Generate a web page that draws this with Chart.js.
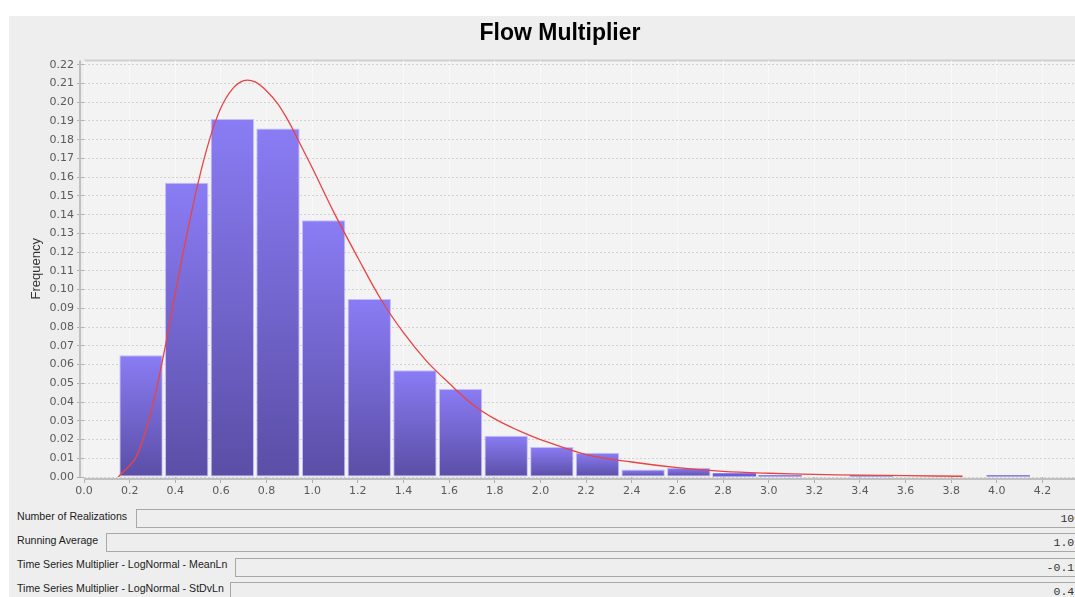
<!DOCTYPE html>
<html lang="en">
<head>
<meta charset="UTF-8">
<title>Flow Multiplier</title>
<script src="https://cdn.jsdelivr.net/npm/chart.js"></script>
<style>
  html, body { margin: 0; padding: 0; background: #fff; overflow: hidden; width: 1075px; height: 597px; }
  #panel { position: absolute; left: 9px; top: 16px; width: 1100px; height: 600px; background: #eeeeee; }
  #chartBox { position: absolute; left: 9px; top: 16px; }
  .lbl { position: absolute; font: 10.6px "Liberation Sans", Arial, sans-serif; color: #222; white-space: nowrap; }
  .fld { position: absolute; height: 19px; border: 1px solid #a8a8a8; background: #eeeeee;
         font: 11.5px "Liberation Mono", monospace; color: #333; text-align: right;
         line-height: 17px; padding-right: 4px; box-sizing: border-box; white-space: nowrap; overflow: hidden; }
</style>
</head>
<body>
<div id="panel"></div>
<div id="chartBox"><canvas id="myChart" width="1096" height="485"></canvas></div>

<div class="lbl" style="left:17px; top:510px;">Number of Realizations</div>
<div class="fld" style="left:136px; top:509px; width:957px;">1000</div>
<div class="lbl" style="left:17px; top:534px;">Running Average</div>
<div class="fld" style="left:106px; top:533px; width:987px;">1.031</div>
<div class="lbl" style="left:17px; top:558px;">Time Series Multiplier - LogNormal - MeanLn</div>
<div class="fld" style="left:235px; top:558px; width:858px;">-0.112</div>
<div class="lbl" style="left:17px; top:582px;">Time Series Multiplier - LogNormal - StDvLn</div>
<div class="fld" style="left:230px; top:582px; width:863px;">0.471</div>

<script>
  // histogram bins (centres, width 0.2) and relative frequencies
  const binCenters = [0.25, 0.45, 0.65, 0.85, 1.05, 1.25, 1.45, 1.65, 1.85, 2.05,
                      2.25, 2.45, 2.65, 2.85, 3.05, 3.25, 3.45, 3.65, 3.85, 4.05];
  const frequencies = [0.065, 0.157, 0.191, 0.186, 0.137, 0.095, 0.057, 0.047, 0.022, 0.016,
                       0.013, 0.004, 0.005, 0.002, 0.001, 0.000, 0.001, 0.000, 0.000, 0.001];

  // fitted lognormal curve
  const curveX = [0.15, 0.23, 0.30, 0.35, 0.40, 0.45, 0.50, 0.55, 0.60, 0.65, 0.70, 0.75,
                  0.80, 0.85, 0.90, 0.95, 1.00, 1.10, 1.20, 1.30, 1.40, 1.50, 1.60, 1.70,
                  1.80, 1.90, 2.00, 2.20, 2.40, 2.60, 2.80, 3.00, 3.20, 3.40, 3.60, 3.85];
  const curveY = [0.000, 0.011, 0.038, 0.066, 0.098, 0.129, 0.157, 0.180, 0.197, 0.207, 0.2115, 0.2108,
                  0.206, 0.199, 0.189, 0.177, 0.165, 0.140, 0.117, 0.095, 0.077, 0.062, 0.050, 0.039,
                  0.031, 0.025, 0.020, 0.012, 0.008, 0.005, 0.003, 0.002, 0.0014, 0.001, 0.0007, 0.0004];

  const tickFont = { family: 'DejaVu Sans', size: 11 };

  // plot background, outline and the offset axis lines
  const plotFrame = {
    id: 'plotFrame',
    beforeDraw(chart) {
      const { ctx, chartArea: a } = chart;
      ctx.save();
      ctx.fillStyle = '#f3f3f3';
      ctx.fillRect(a.left, a.top, a.right - a.left + 20, a.bottom - a.top);
      ctx.strokeStyle = '#cfcfcf';
      ctx.lineWidth = 2;
      ctx.beginPath();
      ctx.moveTo(a.left, a.top);
      ctx.lineTo(a.right + 20, a.top);
      ctx.stroke();
      ctx.lineWidth = 1;
      ctx.beginPath();
      ctx.moveTo(a.left + 0.5, a.top);
      ctx.lineTo(a.left + 0.5, a.bottom);
      ctx.stroke();
      ctx.restore();
    },
    afterDraw(chart) {
      const { ctx, chartArea: a } = chart;
      ctx.save();
      ctx.strokeStyle = '#c0c0c0';
      ctx.lineWidth = 2;
      ctx.beginPath();
      ctx.moveTo(a.left - 4, a.top);
      ctx.lineTo(a.left - 4, a.bottom);
      ctx.moveTo(a.left, a.bottom + 2);
      ctx.lineTo(a.right + 20, a.bottom + 2);
      ctx.stroke();
      ctx.restore();
    }
  };

  const barHeight = (c) => {
    const y = c.chart.scales.y;
    return y.getPixelForValue(0) - y.getPixelForValue(c.raw.y);
  };
  const isThin = (c) => !c.chart.chartArea || c.type !== 'data' || barHeight(c) < 4;

  const barFill = (c) => {
    if (isThin(c)) return '#6a5ce0';
    const y = c.chart.scales.y;
    const g = c.chart.ctx.createLinearGradient(0, y.getPixelForValue(c.raw.y), 0, y.getPixelForValue(0));
    g.addColorStop(0, '#8a7cf4');
    g.addColorStop(1, '#5a4ea6');
    return g;
  };

  const ctx = document.getElementById('myChart').getContext('2d');
  const chart = new Chart(ctx, {
    type: 'bar',
    data: {
      datasets: [
        {
          type: 'line',
          label: 'LogNormal',
          data: curveX.map((x, i) => ({ x: x, y: curveY[i] })),
          borderColor: '#e84444',
          borderWidth: 1.3,
          pointRadius: 0,
          tension: 0.35,
          fill: false,
          order: 0,
        },
        {
          label: 'Frequency',
          data: binCenters.map((x, i) => ({ x: x, y: frequencies[i] })),
          backgroundColor: barFill,
          borderColor: 'rgba(190, 182, 255, 0.9)',
          borderWidth: (c) => (isThin(c) ? 0 : 1),
          borderSkipped: false,
          barPercentage: 0.95,
          categoryPercentage: 1,
          order: 1,
        },
      ],
    },
    options: {
      responsive: false,
      devicePixelRatio: 1,
      animation: false,
      layout: { padding: { left: 16, right: 10, top: 0, bottom: 0 } },
      plugins: {
        legend: { display: false },
        tooltip: { enabled: false },
        title: {
          display: true,
          text: 'Flow Multiplier',
          color: '#000',
          font: { family: 'Liberation Sans', size: 23, weight: 'bold' },
          padding: { top: 4, bottom: 13 },
        },
      },
      scales: {
        x: {
          type: 'linear',
          offset: false,
          min: 0,
          max: 4.43,
          afterFit: (s) => { s.height = 24; },
          ticks: {
            stepSize: 0.2,
            includeBounds: false,
            autoSkip: false,
            maxRotation: 0,
            padding: 2,
            color: '#5a5a5a',
            font: tickFont,
            callback: (v) => v.toFixed(1),
          },
          grid: {
            offset: false,
            color: '#f9f9f9',
            tickColor: '#b0b0b0',
            tickLength: 6,
            tickBorderDash: [],
          },
          border: { display: false },
        },
        y: {
          min: 0,
          max: 0.2222,
          afterFit: (s) => { s.width = 59; },
          title: {
            display: true,
            text: 'Frequency',
            color: '#333',
            font: { family: 'Liberation Sans', size: 13 },
            padding: { top: 4, bottom: 4 },
          },
          ticks: {
            stepSize: 0.01,
            includeBounds: false,
            autoSkip: false,
            padding: 3,
            color: '#5a5a5a',
            font: tickFont,
            callback: (v) => v.toFixed(2),
          },
          grid: {
            color: '#d2d2d2',
            tickColor: '#b0b0b0',
            tickLength: 7,
            tickBorderDash: [],
          },
          border: { display: false, dash: [2, 2] },
        },
      },
    },
    plugins: [plotFrame],
  });
</script>
</body>
</html>
